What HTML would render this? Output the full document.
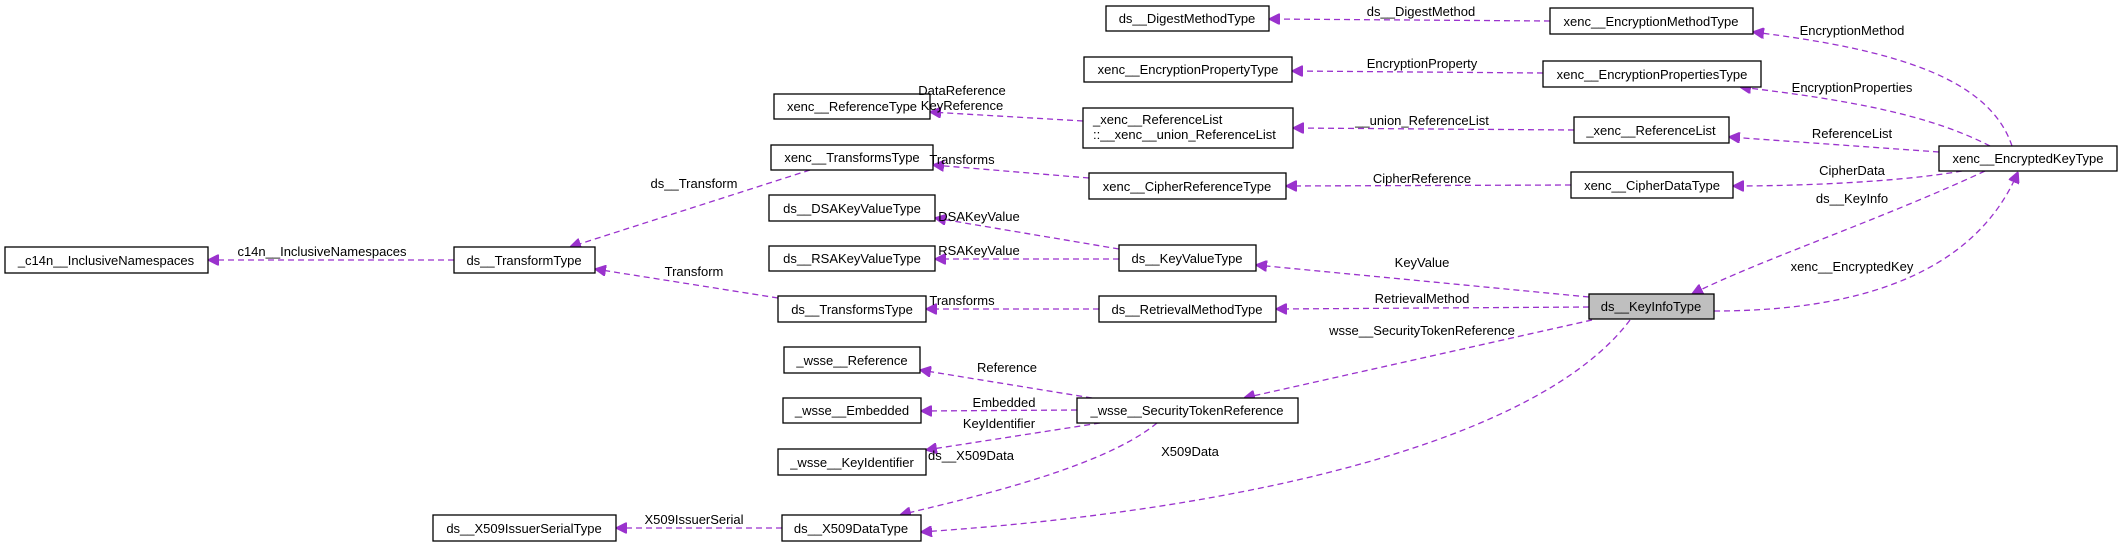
<!DOCTYPE html>
<html><head><meta charset="utf-8"><style>
html,body{margin:0;padding:0;background:#fff;}
svg{display:block;font-family:"Liberation Sans",sans-serif;}
rect{fill:#fff;stroke:#000;stroke-width:1.3;}
.n{font-size:13px;text-anchor:middle;}
.l{font-size:13px;text-anchor:middle;}
path{fill:none;stroke:#9a32cd;stroke-width:1.3;stroke-dasharray:6,4;}
</style></head><body>
<svg width="2123" height="547" viewBox="0 0 2123 547" xmlns="http://www.w3.org/2000/svg">
<defs><marker id="a" viewBox="0 0 10 10" refX="10" refY="5" markerWidth="11" markerHeight="11" markerUnits="userSpaceOnUse" orient="auto"><path d="M0,0 L10,5 L0,10 z" style="fill:#9a32cd;stroke:#9a32cd;stroke-dasharray:none"/></marker></defs>

<g marker-end="url(#a)">
<path d="M1550,21 L1269,19" marker-end="url(#a)"/>
<path d="M2012,146 C1990,80 1900,50 1753,32" marker-end="url(#a)"/>
<path d="M1543,73 L1292,71" marker-end="url(#a)"/>
<path d="M1990,146 C1930,115 1850,100 1740,87" marker-end="url(#a)"/>
<path d="M1574,130 L1293,128" marker-end="url(#a)"/>
<path d="M1939,152 L1729,137" marker-end="url(#a)"/>
<path d="M1962,171 C1900,182 1800,186 1733,186" marker-end="url(#a)"/>
<path d="M1571,185 L1286,186" marker-end="url(#a)"/>
<path d="M1985,171 C1880,220 1760,260 1692,294" marker-end="url(#a)"/>
<path d="M1714,311 C1900,311 1985,250 2018,172" marker-end="url(#a)"/>
<path d="M1589,297 L1256,265" marker-end="url(#a)"/>
<path d="M1589,307 L1276,309" marker-end="url(#a)"/>
<path d="M1592,320 L1244,398" marker-end="url(#a)"/>
<path d="M1630,320 C1540,440 1250,510 921,532" marker-end="url(#a)"/>
<path d="M1083,121 L930,112" marker-end="url(#a)"/>
<path d="M1089,178 L933,165" marker-end="url(#a)"/>
<path d="M810,170 L570,247" marker-end="url(#a)"/>
<path d="M454,260 L208,260" marker-end="url(#a)"/>
<path d="M1119,249 L935,218" marker-end="url(#a)"/>
<path d="M1119,259 L935,259" marker-end="url(#a)"/>
<path d="M778,298 L595,269" marker-end="url(#a)"/>
<path d="M1099,309 L926,309" marker-end="url(#a)"/>
<path d="M1092,398 L920,370" marker-end="url(#a)"/>
<path d="M1077,410 L921,411" marker-end="url(#a)"/>
<path d="M1100,423 L926,450" marker-end="url(#a)"/>
<path d="M1157,423 C1100,470 960,500 900,515" marker-end="url(#a)"/>
<path d="M782,528 L616,528" marker-end="url(#a)"/>
</g>

<g>
<rect x="1106" y="6" width="163" height="25"/><text class="n" x="1187" y="23">ds__DigestMethodType</text>
<rect x="1550" y="8" width="203" height="26"/><text class="n" x="1651" y="26">xenc__EncryptionMethodType</text>
<rect x="1084" y="57" width="208" height="25"/><text class="n" x="1188" y="74">xenc__EncryptionPropertyType</text>
<rect x="1543" y="61" width="218" height="26"/><text class="n" x="1652" y="79">xenc__EncryptionPropertiesType</text>
<rect x="1083" y="108" width="210" height="40"/><text x="1093" y="124" style="font-size:13px">_xenc__ReferenceList</text><text x="1093" y="139" style="font-size:13px">::__xenc__union_ReferenceList</text>
<rect x="1574" y="117" width="155" height="26"/><text class="n" x="1651" y="135">_xenc__ReferenceList</text>
<rect x="1939" y="146" width="178" height="25"/><text class="n" x="2028" y="163">xenc__EncryptedKeyType</text>
<rect x="1089" y="173" width="197" height="26"/><text class="n" x="1187" y="191">xenc__CipherReferenceType</text>
<rect x="1571" y="172" width="162" height="26"/><text class="n" x="1652" y="190">xenc__CipherDataType</text>
<rect x="1119" y="245" width="137" height="26"/><text class="n" x="1187" y="263">ds__KeyValueType</text>
<rect x="1099" y="296" width="177" height="26"/><text class="n" x="1187" y="314">ds__RetrievalMethodType</text>
<rect x="1589" y="294" width="125" height="25" style="fill:#bfbfbf"/><text class="n" x="1651" y="311">ds__KeyInfoType</text>
<rect x="1077" y="398" width="221" height="25"/><text class="n" x="1187" y="415">_wsse__SecurityTokenReference</text>
<rect x="774" y="94" width="156" height="25"/><text class="n" x="852" y="111">xenc__ReferenceType</text>
<rect x="771" y="145" width="162" height="25"/><text class="n" x="852" y="162">xenc__TransformsType</text>
<rect x="769" y="195" width="166" height="26"/><text class="n" x="852" y="213">ds__DSAKeyValueType</text>
<rect x="769" y="246" width="166" height="25"/><text class="n" x="852" y="263">ds__RSAKeyValueType</text>
<rect x="778" y="296" width="148" height="26"/><text class="n" x="852" y="314">ds__TransformsType</text>
<rect x="5" y="247" width="203" height="26"/><text class="n" x="106" y="265">_c14n__InclusiveNamespaces</text>
<rect x="454" y="247" width="141" height="26"/><text class="n" x="524" y="265">ds__TransformType</text>
<rect x="784" y="347" width="136" height="26"/><text class="n" x="852" y="365">_wsse__Reference</text>
<rect x="783" y="398" width="138" height="25"/><text class="n" x="852" y="415">_wsse__Embedded</text>
<rect x="778" y="449" width="148" height="26"/><text class="n" x="852" y="467">_wsse__KeyIdentifier</text>
<rect x="433" y="515" width="183" height="26"/><text class="n" x="524" y="533">ds__X509IssuerSerialType</text>
<rect x="782" y="515" width="139" height="26"/><text class="n" x="851" y="533">ds__X509DataType</text>
</g>

<g>
<text class="l" x="1421" y="16">ds__DigestMethod</text>
<text class="l" x="1852" y="35">EncryptionMethod</text>
<text class="l" x="1422" y="68">EncryptionProperty</text>
<text class="l" x="1852" y="92">EncryptionProperties</text>
<text class="l" x="1422" y="125">__union_ReferenceList</text>
<text class="l" x="1852" y="138">ReferenceList</text>
<text class="l" x="1852" y="175">CipherData</text>
<text class="l" x="1422" y="183">CipherReference</text>
<text class="l" x="1852" y="203">ds__KeyInfo</text>
<text class="l" x="1852" y="271">xenc__EncryptedKey</text>
<text class="l" x="1422" y="267">KeyValue</text>
<text class="l" x="1422" y="303">RetrievalMethod</text>
<text class="l" x="1422" y="335">wsse__SecurityTokenReference</text>
<text class="l" x="1190" y="456">X509Data</text>
<text class="l" x="962" y="95">DataReference</text>
<text class="l" x="962" y="110">KeyReference</text>
<text class="l" x="962" y="164">Transforms</text>
<text class="l" x="694" y="188">ds__Transform</text>
<text class="l" x="322" y="256">c14n__InclusiveNamespaces</text>
<text class="l" x="979" y="221">DSAKeyValue</text>
<text class="l" x="979" y="255">RSAKeyValue</text>
<text class="l" x="694" y="276">Transform</text>
<text class="l" x="962" y="305">Transforms</text>
<text class="l" x="1007" y="372">Reference</text>
<text class="l" x="1004" y="407">Embedded</text>
<text class="l" x="999" y="428">KeyIdentifier</text>
<text class="l" x="971" y="460">ds__X509Data</text>
<text class="l" x="694" y="524">X509IssuerSerial</text>
</g>
</svg>
</body></html>
